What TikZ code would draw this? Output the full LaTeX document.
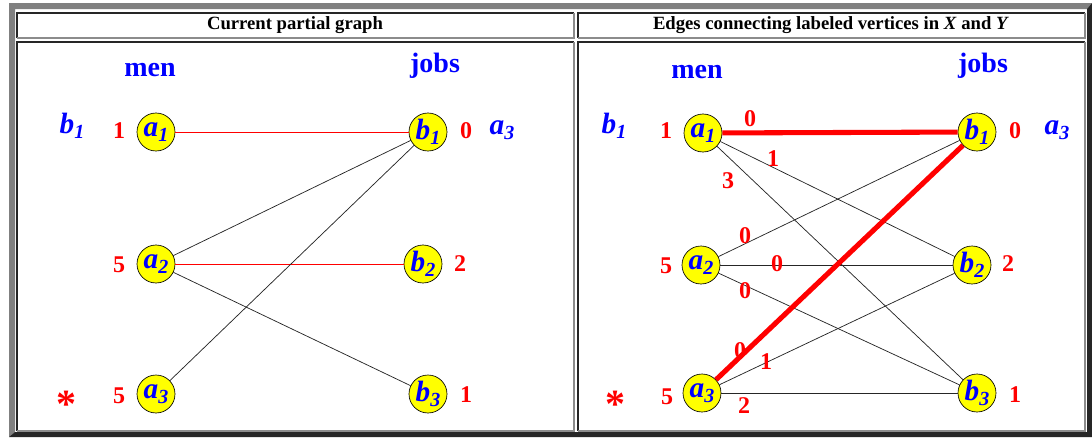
\documentclass[tikz,border=0pt]{standalone}
\usepackage{fontspec}
\setmainfont{Liberation Serif}
\usepackage{xcolor}
\usepackage{tikz}
\definecolor{hgred}{HTML}{FF0000}
\definecolor{hgblue}{HTML}{0000FF}
\definecolor{hgyellow}{HTML}{FFFF00}
\definecolor{hgdark}{HTML}{262626}
\definecolor{hgmid}{HTML}{808080}
\definecolor{hglight}{HTML}{8C8C8C}
\newcommand\vsub[2]{#1\raisebox{-0.35ex}{\fontsize{15}{15}\selectfont #2}}

\begin{document}
\begin{tikzpicture}[x=0.75pt,y=-0.75pt,
  vtx/.style={
    circle, draw=black, line width=0.5pt, fill=hgyellow,
    minimum size=28.5pt, inner sep=0pt, text=hgblue,
    font=\fontsize{22}{22}\selectfont\bfseries\itshape
  },
  colhead/.style={font=\fontsize{21}{21}\selectfont\bfseries, text=hgblue},
  side/.style={font=\fontsize{22}{22}\selectfont\bfseries\itshape, text=hgblue},
  num/.style={font=\fontsize{18}{18}\selectfont\bfseries, text=hgred},
  star/.style={font=\fontsize{30}{30}\selectfont\bfseries, text=hgred},
  elab/.style={font=\fontsize{18}{18}\selectfont\bfseries, text=hgred},
  link/.style={draw=black!85, line width=0.55pt},
  match/.style={draw=hgred, line width=0.75pt},
  matchb/.style={draw=hgred, line width=3.8pt},
  title/.style={font=\fontsize{14}{14}\selectfont\bfseries},
  cellhi/.style={draw=hgdark, line width=1.1pt},
  celllo/.style={draw=hglight, line width=1.1pt},
]
\useasboundingbox (0,0) rectangle (1092,437);

% table frame
\fill[hgmid] (9,3) -- (1092,3) -- (1087,9) -- (15,9) -- (15,432) -- (9,437) -- cycle;
\fill[hgdark] (1092,3) -- (1092,437) -- (9,437) -- (15,432) -- (1087,432) -- (1087,9) -- cycle;
\foreach \xa/\ya/\xb/\yb in {17/13/574/38, 578/13/1085/38, 17/42/574/431, 578/42/1085/431} {
  \draw[cellhi] (\xa,\yb) -- (\xa,\ya) -- (\xb,\ya);
  \draw[celllo] (\xb,\ya) -- (\xb,\yb) -- (\xa,\yb);
}
\node[title] (t1) at (295,25.5) {Current partial graph};
\node[title] (t2) at (831,25.5) {Edges connecting labeled vertices in \textit{X} and \textit{Y}};

% left: current partial graph
\node[colhead] (lmen) at (150,70) {men};
\node[colhead] (ljobs) at (435,66) {jobs};
\node[vtx] (la1) at (156,132) {\vsub{a}{1}};
\node[vtx] (la2) at (156,264) {\vsub{a}{2}};
\node[vtx] (la3) at (156,394) {\vsub{a}{3}};
\node[vtx] (lb1) at (428,132) {\vsub{b}{1}};
\node[vtx] (lb2) at (423,264) {\vsub{b}{2}};
\node[vtx] (lb3) at (428,394) {\vsub{b}{3}};
\node[side] (lxb1) at (72,126) {\vsub{b}{1}};
\node[num] (lxa1) at (119,131) {1};
\node[num] (lxa2) at (119,265) {5};
\node[num] (lxa3) at (119,396) {5};
\node[star] (lstar) at (66,404) {*};
\node[num] (lyb1) at (466,131) {0};
\node[side] (lya3) at (502,130) {\vsub{a}{3}};
\node[num] (lyb2) at (460,264) {2};
\node[num] (lyb3) at (466,395) {1};
\draw[match] (la1) -- (lb1);
\draw[match] (la2) -- (lb2);
\draw[link] (la2) -- (lb1);
\draw[link] (la2) -- (lb3);
\draw[link] (la3) -- (lb1);

% right: edges between labeled vertices
\node[colhead] (rmen) at (697,72) {men};
\node[colhead] (rjobs) at (983,66) {jobs};
\node[vtx] (ra1) at (703,133) {\vsub{a}{1}};
\node[vtx] (ra2) at (701,265) {\vsub{a}{2}};
\node[vtx] (ra3) at (702,393) {\vsub{a}{3}};
\node[vtx] (rb1) at (977,132) {\vsub{b}{1}};
\node[vtx] (rb2) at (972,265) {\vsub{b}{2}};
\node[vtx] (rb3) at (977,393) {\vsub{b}{3}};
\node[side] (rxb1) at (614,126) {\vsub{b}{1}};
\node[num] (rxa1) at (666,131) {1};
\node[num] (rxa2) at (666,266) {5};
\node[num] (rxa3) at (667,397) {5};
\node[star] (rstar) at (615,404) {*};
\node[num] (ryb1) at (1015,131) {0};
\node[side] (rya3) at (1057,130) {\vsub{a}{3}};
\node[num] (ryb2) at (1008,264) {2};
\node[num] (ryb3) at (1015,395) {1};
\draw[link] (ra1) -- (rb2);
\draw[link] (ra1) -- (rb3);
\draw[link] (ra2) -- (rb1);
\draw[link] (ra2) -- (rb2);
\draw[link] (ra2) -- (rb3);
\draw[link] (ra3) -- (rb2);
\draw[link] (ra3) -- (rb3);
\draw[matchb] (ra1) -- (rb1);
\draw[matchb] (ra3) -- (rb1);
\node[elab] (e11) at (750,119) {0};
\node[elab] (e12) at (773,159) {1};
\node[elab] (e13) at (728,181) {3};
\node[elab] (e21) at (745,236) {0};
\node[elab] (e22) at (777,264) {0};
\node[elab] (e23) at (745,291) {0};
\node[elab] (e31) at (740,351) {0};
\node[elab] (e32) at (766,362) {1};
\node[elab] (e33) at (744,406) {2};

\end{tikzpicture}
\end{document}
